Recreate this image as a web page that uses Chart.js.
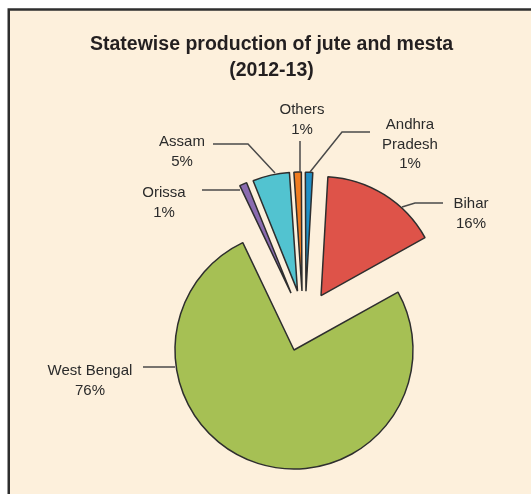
<!DOCTYPE html>
<html>
<head>
<meta charset="utf-8">
<script src="https://cdn.jsdelivr.net/npm/chart.js@4/dist/chart.umd.min.js"></script>
<style>
  html, body { margin: 0; padding: 0; background: #fff; }
  #wrap { width: 531px; height: 494px; }
</style>
</head>
<body>
<div id="wrap"><canvas id="chart" width="531" height="494"></canvas></div>
<script>
// data, clockwise from the top-left gap
const states = ["Orissa", "Assam", "Others", "Andhra Pradesh", "Bihar", "West Bengal"];
const shares = [1, 5, 1, 1, 16, 76];

const sliceColors = ["#8a6bb0", "#52c3d0", "#f07c20", "#2190c6", "#de5349", "#a6c054"];
// how far each piece is pulled out of the pie: [distance px, direction deg clockwise from top]
const explode = [[57, -3], [59, 3.4], [59.5, 7.7], [60, 11.5], [60.8, 26.4], [0, 0]];

const labelFont = '15px "Liberation Sans", Arial, sans-serif';
const textColor = "#2b2b2b";
const lineColor = "#4a4a4a";

// label text blocks: centre x, first baseline, leader line points
const labelLayout = [
  { lines: ["Orissa", "1%"], x: 164, y: 197, path: [[202, 190], [240, 190]] },
  { lines: ["Assam", "5%"], x: 182, y: 146, path: [[213, 144], [248, 144], [275, 173]] },
  { lines: ["Others", "1%"], x: 302, y: 114, path: [[300, 141], [300, 172]] },
  { lines: ["Andhra", "Pradesh", "1%"], x: 410, y: 129, path: [[370, 132], [342, 132], [310, 172]] },
  { lines: ["Bihar", "16%"], x: 471, y: 208, path: [[443, 203], [415, 203], [402, 207]] },
  { lines: ["West Bengal", "76%"], x: 90, y: 375, path: [[143, 367], [175, 367]] }
];

const framePlugin = {
  id: "frame",
  beforeDraw(chart) {
    const ctx = chart.ctx;
    ctx.save();
    ctx.fillStyle = "#fdf0dc";
    ctx.fillRect(9, 10, chart.width - 9, chart.height - 10);
    ctx.strokeStyle = "#2e2e2e";
    ctx.lineWidth = 2.5;
    ctx.beginPath();
    ctx.moveTo(8.75, chart.height);
    ctx.lineTo(8.75, 9.5);
    ctx.lineTo(chart.width, 9.5);
    ctx.stroke();

    ctx.fillStyle = "#231f20";
    ctx.font = 'bold 19.5px "Liberation Sans", Arial, sans-serif';
    ctx.textAlign = "center";
    ctx.textBaseline = "alphabetic";
    ctx.fillText("Statewise production of jute and mesta", 271.5, 50);
    ctx.fillText("(2012-13)", 271.5, 76);
    ctx.restore();
  }
};

const explodePlugin = {
  id: "explode",
  afterDatasetUpdate(chart, args) {
    args.meta.data.forEach(function(arc, i) {
      const d = explode[i][0];
      const a = explode[i][1] * Math.PI / 180;
      arc.x += Math.sin(a) * d;
      arc.y -= Math.cos(a) * d;
    });
  }
};

const labelPlugin = {
  id: "leaderLabels",
  afterDraw(chart) {
    const ctx = chart.ctx;
    ctx.save();
    ctx.strokeStyle = lineColor;
    ctx.lineWidth = 1.5;
    ctx.fillStyle = textColor;
    ctx.font = labelFont;
    ctx.textAlign = "center";
    ctx.textBaseline = "alphabetic";
    labelLayout.forEach(function(lab, i) {
      ctx.beginPath();
      lab.path.forEach(function(p, j) {
        if (j == 0) ctx.moveTo(p[0], p[1]);
        else ctx.lineTo(p[0], p[1]);
      });
      ctx.stroke();
      const txt = lab.lines.slice();
      txt[txt.length - 1] = Math.round(shares[i]) + "%";
      txt.forEach(function(t, j) {
        ctx.fillText(t, lab.x, lab.y + j * 19.5);
      });
    });
    ctx.restore();
  }
};

new Chart(document.getElementById("chart").getContext("2d"), {
  type: "pie",
  data: {
    labels: states,
    datasets: [{
      data: shares,
      backgroundColor: sliceColors,
      borderColor: "#2e2e2e",
      borderWidth: 1.5,
      hoverOffset: 0
    }]
  },
  options: {
    responsive: false,
    animation: false,
    rotation: -25.5,
    radius: 119,
    clip: false,
    layout: { padding: { left: 77, right: 20, top: 226, bottom: 20 } },
    plugins: {
      legend: { display: false },
      tooltip: { enabled: false },
      title: { display: false }
    }
  },
  plugins: [framePlugin, explodePlugin, labelPlugin]
});
</script>
</body>
</html>
